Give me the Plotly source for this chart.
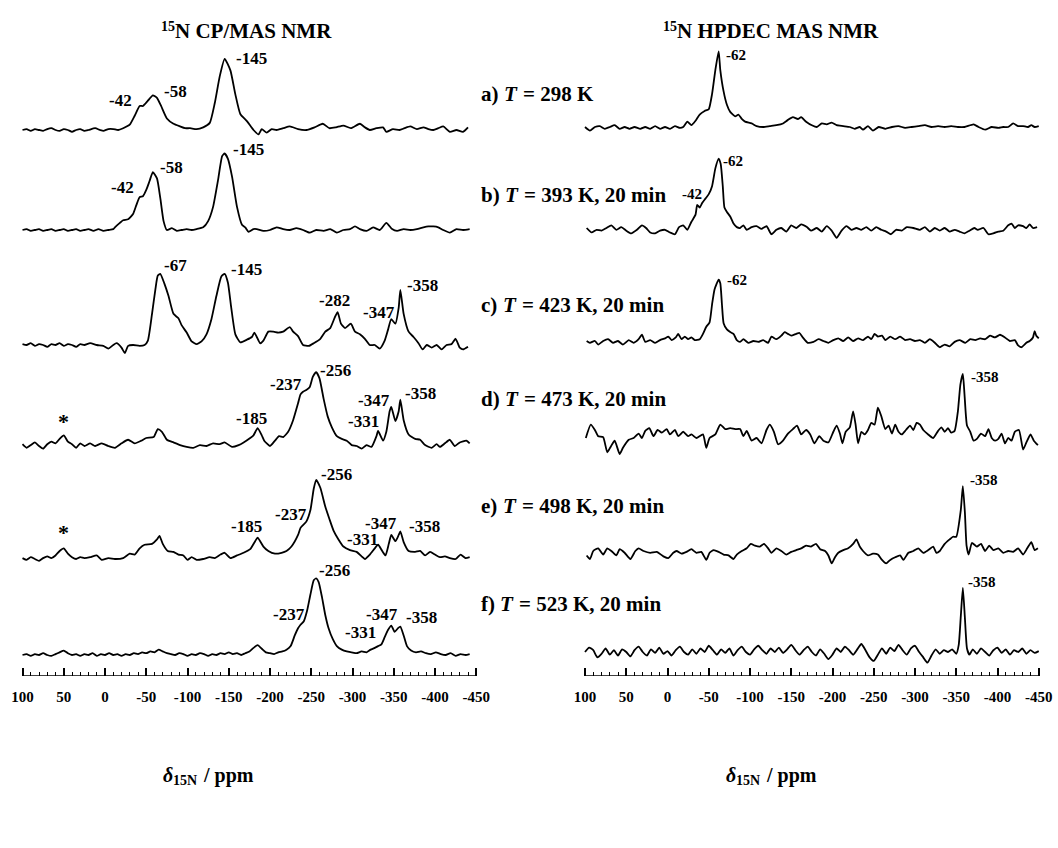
import plotly.graph_objects as go

# ---------------- canvas / geometry ----------------
W, H = 1058, 848
AXIS_Y = 676             # pixel row of the two ppm axes
PX_PER_PPM = 0.825
LEFT_ZERO_PX = 105.0     # pixel column of 0 ppm in the CP/MAS panel
RIGHT_ZERO_PX = 667.5    # pixel column of 0 ppm in the HPDEC panel
INT_SCALE = 0.89         # pixels per intensity unit
SERIF = "Liberation Serif"

# ---------------- 15N CP/MAS spectra: (shift / ppm, intensity) ----------------
cp_a = [(100,0),(95,1),(90,-1),(85,1),(80,0),(75,-1),(70,1),(65,2),(60,0),(55,-1),(50,1),(45,0),(40,-2),
        (35,0),(30,1),(25,-1),(20,0),(12,2),(6,0),(2,-1),(-4,1),(-10,1),(-16,0),(-22,2),(-30,6),(-36,16),
        (-42,27),(-46,27),(-52,33),(-58,39),(-63,36),(-68,27),(-75,13),(-83,7),(-91,4),(-97,2),(-103,2),
        (-111,1),(-119,3),(-127,8),(-133,30),(-139,60),(-145,80),(-152,67),(-158,40),(-164,18),(-172,10),
        (-180,0),(-186,-5),(-190,1),(-196,-3),(-202,1),(-208,0),(-216,2),(-224,4),(-234,1),(-244,0),
        (-254,3),(-264,7),(-272,2),(-280,3),(-289,5),(-298,2),(-309,7),(-315,3),(-321,0),(-329,2),
        (-337,3),(-341,-2),(-349,1),(-357,0),(-363,2),(-370,4),(-378,1),(-386,3),(-392,1),(-398,0),
        (-404,2),(-410,4),(-418,-2),(-426,0),(-434,-2),(-440,3)]

cp_b = [(100,0),(95,1),(90,-1),(85,0),(80,1),(75,-1),(70,0),(65,1),(60,-1),(55,0),(50,1),(45,-1),(40,0),
        (35,1),(30,-1),(25,0),(20,1),(14,-1),(8,1),(2,-1),(-4,0),(-10,1),(-12,3),(-18,8),(-22,11),(-28,12),
        (-34,18),(-38,28),(-42,37),(-46,38),(-50,45),(-54,55),(-58,65),(-63,58),(-67,36),(-71,10),(-75,0),
        (-81,2),(-87,-1),(-93,0),(-99,1),(-105,0),(-111,1),(-119,3),(-125,10),(-131,26),(-137,56),
        (-142,83),(-145,86),(-149,80),(-154,60),(-160,26),(-166,6),(-170,3),(-174,-2),(-180,1),(-184,1),
        (-192,-1),(-200,0),(-208,3),(-216,1),(-224,0),(-232,2),(-240,0),(-248,-3),(-256,0),(-265,-1),
        (-273,1),(-281,-3),(-289,0),(-297,1),(-303,4),(-309,1),(-317,-1),(-325,3),(-333,0),(-341,8),
        (-348,1),(-354,-1),(-362,1),(-370,0),(-378,1),(-386,3),(-392,4),(-398,4),(-404,3),(-410,0),
        (-418,-3),(-426,1),(-434,0),(-442,1)]

cp_c = [(100,1),(95,0),(90,2),(85,-1),(80,1),(75,0),(70,-2),(65,1),(60,0),(55,2),(50,-1),(45,1),(40,0),
        (35,-2),(30,1),(25,0),(18,2),(10,0),(2,-1),(-4,-4),(-10,0),(-14,2),(-20,-3),(-24,-9),(-28,-1),
        (-34,0),(-42,-1),(-48,0),(-52,5),(-57,35),(-61,62),(-64,78),(-67,80),(-72,69),(-77,55),(-83,35),
        (-89,30),(-93,22),(-99,14),(-105,4),(-111,1),(-117,4),(-123,12),(-129,29),(-135,55),(-141,77),
        (-145,80),(-149,70),(-153,42),(-158,12),(-164,3),(-172,6),(-178,9),(-181,14),(-184,9),(-188,2),
        (-192,5),(-198,15),(-204,15),(-210,14),(-216,15),(-224,20),(-228,15),(-234,10),(-240,0),(-247,-1),
        (-253,2),(-261,7),(-267,15),(-273,19),(-279,32),(-282,37),(-286,24),(-291,19),(-298,24),(-303,15),
        (-309,12),(-315,7),(-321,0),(-327,0),(-333,-4),(-339,5),(-343,17),(-347,29),(-352,24),(-356,42),
        (-358,62),(-362,35),(-368,15),(-374,9),(-380,2),(-385,-5),(-390,0),(-396,-3),(-402,0),(-408,-5),
        (-414,0),(-420,1),(-425,7),(-430,-3),(-434,-5),(-440,-2)]

cp_d = [(100,2),(95,-2),(90,1),(85,4),(80,0),(75,-3),(70,2),(65,5),(60,3),(55,8),(50,12),(45,5),(40,2),
        (35,-2),(30,3),(25,0),(18,3),(12,0),(4,3),(-4,0),(-12,-2),(-20,3),(-28,7),(-36,3),(-44,6),(-50,9),
        (-59,10),(-64,19),(-69,16),(-75,7),(-83,4),(-91,1),(-99,-1),(-107,-2),(-115,1),(-123,0),(-131,3),
        (-139,2),(-145,4),(-154,-1),(-162,1),(-168,4),(-176,9),(-180,12),(-185,20),(-190,12),(-193,6),
        (-200,0),(-206,6),(-211,11),(-216,10),(-222,16),(-228,29),(-234,48),(-237,58),(-240,61),(-244,63),
        (-248,66),(-252,78),(-256,83),(-260,76),(-265,53),(-270,33),(-275,21),(-281,11),(-287,8),(-293,6),
        (-299,1),(-305,0),(-311,-3),(-317,1),(-323,-1),(-329,11),(-331,17),(-337,6),(-341,16),(-345,39),
        (-347,44),(-352,28),(-356,39),(-358,52),(-362,29),(-368,13),(-376,8),(-382,7),(-388,1),(-396,-2),
        (-402,2),(-406,-1),(-412,3),(-418,7),(-424,0),(-430,4),(-438,6),(-442,3)]

cp_e = [(100,1),(95,-1),(90,2),(85,0),(80,-2),(75,1),(70,3),(65,1),(60,4),(55,9),(50,12),(45,6),(40,2),
        (35,0),(30,2),(25,1),(18,2),(10,4),(4,-1),(-4,1),(-12,0),(-22,1),(-30,6),(-36,5),(-42,12),(-48,16),
        (-57,17),(-63,22),(-66,26),(-70,17),(-76,9),(-83,8),(-89,5),(-95,4),(-100,-1),(-105,2),(-111,-1),
        (-119,0),(-127,2),(-133,1),(-140,5),(-145,7),(-152,1),(-160,4),(-168,7),(-176,11),(-182,20),
        (-185,24),(-192,14),(-198,9),(-206,6),(-214,7),(-220,9),(-226,14),(-234,27),(-237,35),(-244,42),
        (-249,55),(-253,79),(-256,89),(-261,80),(-267,59),(-272,45),(-277,32),(-283,22),(-289,14),
        (-297,10),(-305,8),(-311,3),(-315,0),(-321,5),(-327,12),(-331,16),(-336,9),(-340,4),(-344,17),
        (-347,27),(-352,20),(-356,27),(-358,31),(-362,19),(-368,9),(-376,8),(-382,9),(-388,4),(-394,8),
        (-400,5),(-406,2),(-412,3),(-418,1),(-425,0),(-431,5),(-437,1),(-442,2)]

cp_f = [(100,0),(95,1),(90,-1),(85,1),(80,0),(75,2),(70,0),(65,-1),(60,1),(55,3),(50,5),(45,2),(40,0),
        (35,1),(30,-1),(25,1),(20,0),(15,2),(10,-1),(5,1),(0,0),(-5,2),(-10,0),(-15,1),(-20,-1),(-25,1),
        (-30,0),(-35,2),(-40,1),(-45,3),(-50,2),(-55,4),(-60,3),(-65,6),(-70,4),(-75,2),(-80,1),(-85,0),
        (-90,2),(-95,1),(-100,-1),(-105,1),(-110,0),(-115,2),(-120,1),(-125,-1),(-130,1),(-135,0),
        (-140,2),(-145,1),(-150,3),(-155,1),(-160,2),(-165,0),(-170,2),(-175,4),(-180,8),(-185,11),
        (-190,7),(-195,3),(-200,2),(-205,1),(-210,3),(-215,4),(-220,6),(-225,10),(-230,22),(-234,30),
        (-237,34),(-241,38),(-245,50),(-249,68),(-253,84),(-256,86),(-259,82),(-263,65),(-267,45),
        (-271,30),(-276,18),(-281,10),(-287,6),(-293,4),(-299,3),(-305,2),(-311,4),(-317,3),(-322,6),
        (-327,8),(-331,10),(-335,12),(-339,20),(-343,28),(-347,33),(-351,26),(-355,30),(-358,32),
        (-362,22),(-366,10),(-371,5),(-377,3),(-383,4),(-389,2),(-395,1),(-401,3),(-407,1),(-413,0),
        (-419,2),(-425,-1),(-431,1),(-437,0),(-442,1)]

# ---------------- 15N HPDEC spectra: (shift / ppm, intensity) ----------------
hp_a = [(100,0),(94,-4),(88,0),(82,1),(76,-2),(70,0),(64,2),(58,-2),(52,0),(46,-2),(40,0),(33,-2),(27,0),
        (21,-2),(15,1),(9,-2),(3,0),(-3,-2),(-9,1),(-15,-1),(-19,0),(-24,6),(-29,2),(-34,7),(-39,14),
        (-45,18),(-50,20),(-54,37),(-58,64),(-62,85),(-64,64),(-68,40),(-72,25),(-76,17),(-82,12),(-86,14),
        (-90,9),(-94,6),(-102,4),(-108,1),(-116,0),(-124,1),(-132,2),(-140,4),(-146,8),(-152,11),(-158,9),
        (-162,11),(-168,6),(-175,2),(-181,0),(-187,4),(-193,3),(-199,5),(-205,2),(-213,1),(-221,0),
        (-227,-2),(-233,0),(-237,-3),(-243,1),(-249,-4),(-256,0),(-264,-2),(-272,0),(-280,1),(-288,-1),
        (-296,0),(-304,1),(-312,2),(-320,0),(-328,1),(-336,0),(-344,1),(-352,0),(-360,0),(-371,3),
        (-377,0),(-385,-3),(-393,0),(-401,-1),(-407,0),(-413,0),(-419,4),(-425,1),(-431,1),(-437,0),
        (-441,2),(-445,0),(-450,1)]

hp_b = [(98,0),(92,-5),(86,-2),(80,-3),(74,0),(68,3),(62,-2),(56,1),(50,-3),(44,-6),(37,-2),(31,3),(26,0),
        (21,-5),(15,-6),(9,-3),(3,-2),(-3,-5),(-9,-7),(-14,1),(-19,3),(-24,-2),(-29,7),(-34,15),(-36,26),
        (-39,23),(-42,28),(-46,33),(-50,38),(-54,47),(-58,67),(-62,78),(-64.5,72),(-67,47),(-69,23),
        (-72,18),(-76,13),(-80,5),(-84,1),(-88,0),(-92,3),(-96,-2),(-102,1),(-108,2),(-114,-1),(-120,2),
        (-126,-7),(-132,-2),(-138,0),(-144,-4),(-150,3),(-156,0),(-162,4),(-169,1),(-174,-3),(-181,0),
        (-187,-4),(-193,2),(-199,-3),(-205,-11),(-211,-3),(-217,2),(-223,-2),(-229,0),(-235,-2),(-241,1),
        (-247,-3),(-253,1),(-259,-2),(-265,-4),(-271,-7),(-277,-2),(-284,-3),(-290,1),(-298,0),(-306,-2),
        (-312,1),(-318,-4),(-324,0),(-330,-3),(-336,0),(-342,-4),(-348,-2),(-354,-4),(-360,-6),(-366,-3),
        (-372,0),(-376,-2),(-383,0),(-389,-7),(-395,-6),(-401,-4),(-407,-3),(-413,3),(-417,5),(-421,0),
        (-425,3),(-431,2),(-435,0),(-439,4),(-443,0),(-448,1)]

hp_c = [(98,0),(94,-2),(88,0),(84,-4),(78,0),(72,2),(66,-2),(60,0),(54,-4),(47,1),(41,-2),(35,2),(31,7),
        (27,-1),(21,1),(15,-2),(9,1),(3,3),(-1,5),(-5,1),(-10,4),(-13,8),(-17,2),(-21,5),(-25,2),(-29,4),
        (-33,1),(-39,2),(-43,8),(-47,16),(-51,21),(-54,41),(-57,58),(-62,69),(-64,65),(-66,41),(-68,20),
        (-72,13),(-76,10),(-80,8),(-84,1),(-88,-1),(-92,2),(-98,-2),(-104,0),(-110,-1),(-116,1),(-122,-2),
        (-126,5),(-132,2),(-138,6),(-142,10),(-146,8),(-150,6),(-156,8),(-160,9),(-164,4),(-170,-2),
        (-177,-1),(-183,2),(-189,0),(-195,-2),(-201,1),(-207,3),(-213,0),(-219,4),(-225,0),(-231,3),
        (-237,1),(-243,5),(-247,2),(-251,8),(-255,5),(-260,6),(-264,1),(-270,5),(-276,2),(-282,5),(-288,1),
        (-294,2),(-300,0),(-306,1),(-312,-2),(-318,2),(-324,-2),(-330,-7),(-336,-4),(-342,-6),(-348,-1),
        (-354,1),(-361,-2),(-367,2),(-373,1),(-379,3),(-385,2),(-391,6),(-397,4),(-403,7),(-409,4),
        (-415,0),(-421,1),(-425,-5),(-429,-7),(-435,-2),(-439,0),(-443,4),(-445,11),(-447,6),(-450,3)]

hp_d = [(99,0),(93,15),(88,9),(84,2),(78,1),(73,-16),(69,-10),(64,-3),(58,-18),(54,-11),(47,-2),(41,0),
        (35,5),(31,0),(27,8),(22,11),(17,2),(12,9),(7,6),(1,10),(-3,4),(-9,9),(-13,2),(-19,7),(-25,2),
        (-29,4),(-35,0),(-43,4),(-47,-11),(-51,0),(-58,4),(-64,15),(-70,10),(-76,11),(-82,10),(-88,10),
        (-92,2),(-96,8),(-102,-3),(-108,0),(-114,-6),(-120,9),(-124,15),(-129,7),(-134,-7),(-140,-3),
        (-146,5),(-152,10),(-157,14),(-162,4),(-168,9),(-173,4),(-178,-6),(-184,2),(-189,-3),(-195,-5),
        (-201,7),(-205,14),(-209,5),(-212,-6),(-216,7),(-221,12),(-225,30),(-228,15),(-231,-6),(-235,7),
        (-239,4),(-243,9),(-247,17),(-251,15),(-255,34),(-259,25),(-264,10),(-268,14),(-272,5),(-276,15),
        (-280,7),(-284,4),(-289,9),(-294,14),(-298,9),(-302,17),(-306,15),(-310,9),(-316,4),(-322,0),
        (-328,8),(-332,12),(-336,7),(-340,11),(-344,6),(-348,8),(-352,30),(-355,60),(-358,72),(-360,49),
        (-363,14),(-367,7),(-371,-3),(-375,-1),(-380,5),(-385,2),(-389,10),(-393,0),(-397,-3),(-401,-1),
        (-405,5),(-409,-6),(-413,0),(-417,-3),(-421,7),(-426,9),(-431,-13),(-435,-5),(-440,4),(-444,-3),
        (-449,-8)]

hp_e = [(98,-5),(94,-9),(90,0),(84,3),(78,-4),(73,3),(68,0),(62,-5),(58,2),(52,-2),(45,-9),(39,0),(35,3),
        (29,0),(21,-2),(13,-1),(5,-6),(-1,-8),(-7,-2),(-11,0),(-17,-3),(-23,-1),(-29,2),(-35,-2),(-41,-1),
        (-47,-10),(-51,-2),(-56,1),(-62,-1),(-68,-4),(-74,-5),(-80,-9),(-84,-4),(-90,0),(-96,3),(-101,8),
        (-106,6),(-112,5),(-117,8),(-122,3),(-126,-2),(-132,3),(-138,0),(-144,-4),(-150,-1),(-156,1),
        (-162,3),(-168,6),(-174,5),(-180,8),(-185,2),(-191,0),(-195,-5),(-199,-14),(-203,-7),(-207,-2),
        (-213,1),(-219,3),(-225,8),(-229,13),(-233,5),(-237,0),(-243,-5),(-249,-3),(-255,-4),(-260,-10),
        (-265,-14),(-270,-10),(-276,-7),(-282,-5),(-286,-10),(-292,-2),(-298,0),(-304,3),(-310,-2),
        (-316,1),(-322,5),(-326,-2),(-330,0),(-336,8),(-342,13),(-346,16),(-350,16),(-355.5,46),(-358,73),
        (-360.5,43),(-362.5,6),(-365,-4),(-369,9),(-375,5),(-380,8),(-385,0),(-390,6),(-395,1),(-401,3),
        (-407,-2),(-413,0),(-419,-1),(-425,3),(-431,-4),(-436,3),(-441,10),(-445,1),(-449,3)]

hp_f = [(100,0),(95,5),(90,2),(85,-6),(80,-2),(75,4),(70,-3),(65,2),(60,-4),(55,3),(50,0),(45,-5),(40,2),
        (35,6),(30,0),(25,-4),(20,3),(15,-1),(10,5),(5,-2),(0,1),(-5,-4),(-10,2),(-15,6),(-20,0),(-25,-3),
        (-30,3),(-35,-2),(-40,4),(-45,0),(-50,7),(-55,2),(-60,-3),(-65,3),(-70,-1),(-75,4),(-80,-4),
        (-85,2),(-90,6),(-95,0),(-100,-3),(-105,3),(-110,7),(-115,2),(-120,-2),(-125,4),(-130,0),(-135,5),
        (-140,-1),(-145,3),(-150,8),(-155,2),(-160,-3),(-165,2),(-170,6),(-175,0),(-180,-4),(-185,3),
        (-190,-2),(-195,-8),(-200,-3),(-205,4),(-210,0),(-215,6),(-220,2),(-225,-3),(-230,3),(-235,9),
        (-240,2),(-245,-6),(-250,-10),(-255,-3),(-260,4),(-265,-2),(-270,5),(-275,1),(-280,8),(-285,2),
        (-290,-3),(-295,4),(-300,7),(-305,0),(-310,-6),(-315,-12),(-320,-4),(-325,3),(-330,-2),(-335,2),
        (-340,0),(-345,3),(-350,-2),(-353,8),(-355.5,40),(-358,72),(-360.5,38),(-363,4),(-366,-3),
        (-370,3),(-375,-2),(-380,4),(-385,0),(-390,-4),(-395,2),(-400,5),(-405,-1),(-410,3),(-415,-3),
        (-420,2),(-425,0),(-430,4),(-435,-2),(-440,2),(-445,-1),(-450,1)]

# peak labels: (assigned shift, label centre / ppm, label height in intensity units)
cp_peaks = [
    [(-42, -19, 33), (-58, -86, 43), (-145, -177, 80)],
    [(-42, -21, 48), (-58, -80, 70), (-145, -174, 90)],
    [(-67, -85, 89), (-145, -172, 85), (-282, -278, 50), (-347, -332, 37), (-358, -385, 67)],
    [(-185, -177, 31), (-237, -219, 69), (-256, -279, 85), (-331, -313, 27), (-347, -326, 51), (-358, -383, 59)],
    [(-185, -172, 36), (-237, -226, 50), (-256, -281, 95), (-331, -312, 22), (-347, -335, 40), (-358, -387, 37)],
    [(-237, -223, 45), (-256, -278, 95), (-331, -310, 25), (-347, -336, 45), (-358, -384, 42)],
]
hp_peaks = [
    [(-62, -83, 81)],
    [(-42, -30, 38), (-62, -79, 75)],
    [(-62, -84, 69)],
    [(-358, -385, 69)],
    [(-358, -384, 80)],
    [(-358, -381, 79)],
]
# spinning sidebands (marked *): (shift, marker height)
cp_sidebands = [None, None, None, (50, 28), (50, 30), None]

# sample treatment per row: (row tag, temperature / K, heating time)
row_tags = ["a)", "b)", "c)", "d)", "e)", "f)"]
temps_K = [298, 393, 423, 473, 498, 523]
times = ["", "20 min", "20 min", "20 min", "20 min", "20 min"]

panel_titles = ["N CP/MAS NMR", "N HPDEC MAS NMR"]

tick_ppm = list(range(100, -451, -50))
minor_ppm = list(range(100, -451, -10))

# stacking: pixel row of each spectrum's baseline
cp_rows = [130, 230, 345, 446, 559, 655]
hp_rows = [127, 228, 341, 438, 551, 652]
cond_rows = [94, 195, 305, 399, 506, 604]

cp_spectra = [cp_a, cp_b, cp_c, cp_d, cp_e, cp_f]
hp_spectra = [hp_a, hp_b, hp_c, hp_d, hp_e, hp_f]

# Times-Bold advance widths (1/1000 em) for the glyphs in run-composed captions
ADV = {"a": 500, "b": 556, "c": 444, "d": 556, "e": 444, "f": 333, ")": 333, " ": 250,
       "T": 667, "δ": 500, "1": 500, "5": 500, "N": 722, "C": 722, "P": 611, "/": 278,
       "M": 944, "A": 722, "S": 556, "R": 722, "H": 778, "D": 722, "E": 667}


def run_width(s, size):
    return sum(ADV[ch] for ch in s) * size / 1000.0


fig = go.Figure()
annotations = []


def lift(row, v=0.0):
    return AXIS_Y - row + INT_SCALE * v


def text_at(x_px, y_px, text, size, style="normal", anchor="left"):
    annotations.append(dict(
        x=x_px / W, y=1 - y_px / H, xref="paper", yref="paper", text=text, showarrow=False,
        xanchor=anchor, yanchor="middle", borderpad=0,
        font=dict(family=SERIF, size=size, color="black", weight="bold", style=style)))


def add_panel(spectra, rows, peaks, xname, label_size):
    for spec, row, plist in zip(spectra, rows, peaks):
        ppm = [p for p, _ in spec]
        inten = [lift(row, v) for _, v in spec]
        fig.add_trace(go.Scatter(
            x=ppm, y=inten, mode="lines", xaxis=xname, yaxis="y",
            line=dict(color="black", width=1.8, shape="spline", smoothing=0.5),
            hoverinfo="skip", showlegend=False))
        for val, lx, ly in plist:
            annotations.append(dict(
                x=lx, y=lift(row, ly), xref=xname, yref="y", text=str(val),
                showarrow=False, xanchor="center", yanchor="middle",
                font=dict(family=SERIF, size=label_size, color="black", weight="bold")))


add_panel(cp_spectra, cp_rows, cp_peaks, "x", 17)
add_panel(hp_spectra, hp_rows, hp_peaks, "x2", 15)

for sb, row in zip(cp_sidebands, cp_rows):
    if sb:
        annotations.append(dict(x=sb[0], y=lift(row, sb[1]), xref="x", yref="y", text="*",
                                showarrow=False,
                                font=dict(family=SERIF, size=22, color="black", weight="bold")))

# row captions: "a) T = 298 K, 20 min" with an italic T
CAP = 21
for tag, temp, dur, row in zip(row_tags, temps_K, times, cond_rows):
    x0 = 480
    text_at(x0, row, tag, CAP)
    xt = x0 + run_width(tag + " ", CAP)
    text_at(xt, row, "T", CAP, style="italic")
    rest = f"= {temp} K" + (f", {dur}" if dur else "")
    text_at(xt + run_width("T ", CAP), row, rest, CAP)

# panel titles: superscript mass number + nucleus / technique
TT, SUP = 21, 14
for title, cx in zip(panel_titles, [245, 770]):
    w_sup = run_width("15", SUP)
    x0 = cx - (w_sup + run_width(title, TT)) / 2
    text_at(x0, 26, "15", SUP)
    text_at(x0 + w_sup, 31, title, TT)

# axis captions: italic delta, subscript 15N, "/ ppm"
AXT = 20
for cx in [207, 770]:
    total = run_width("δ", AXT) + run_width("15N", 14) + run_width(" ", AXT) + 50
    x0 = cx - total / 2
    text_at(x0, 775, "δ", AXT, style="italic")
    x1 = x0 + run_width("δ", AXT)
    text_at(x1, 780, "15N", 14)
    text_at(x1 + run_width("15N", 14) + run_width(" ", AXT), 775, "/ ppm", AXT)


def ppm_axis(zero_px, x0_px, x1_px):
    return dict(
        range=[(zero_px - x0_px) / PX_PER_PPM, (zero_px - x1_px) / PX_PER_PPM],
        anchor="y", showgrid=False, zeroline=False, showline=False,
        tickmode="array", tickvals=tick_ppm, ticktext=[str(v) for v in tick_ppm],
        ticks="inside", ticklen=8, tickwidth=1.5, tickcolor="black",
        tickfont=dict(family=SERIF, size=15, color="black", weight="bold"), ticklabelstandoff=10,
        minor=dict(tickmode="array", tickvals=minor_ppm, ticks="inside", ticklen=4,
                   tickwidth=1.2, tickcolor="black", showgrid=False),
        fixedrange=True)


xa = ppm_axis(LEFT_ZERO_PX, 0, W / 2)
xa["domain"] = [0, 0.5]
xb = ppm_axis(RIGHT_ZERO_PX, W / 2, W)
xb["domain"] = [0.5, 1]

shapes = [dict(type="line", xref=xr, yref="y", x0=100, x1=-450, y0=0, y1=0,
               line=dict(color="black", width=1.5)) for xr in ("x", "x2")]

fig.update_layout(
    width=W, height=H, margin=dict(l=0, r=0, t=0, b=0),
    paper_bgcolor="white", plot_bgcolor="white",
    xaxis=xa, xaxis2=xb,
    yaxis=dict(domain=[(H - AXIS_Y) / H, 1], range=[0, AXIS_Y], visible=False, fixedrange=True),
    annotations=annotations, shapes=shapes, showlegend=False)

fig.write_html("out.html")
